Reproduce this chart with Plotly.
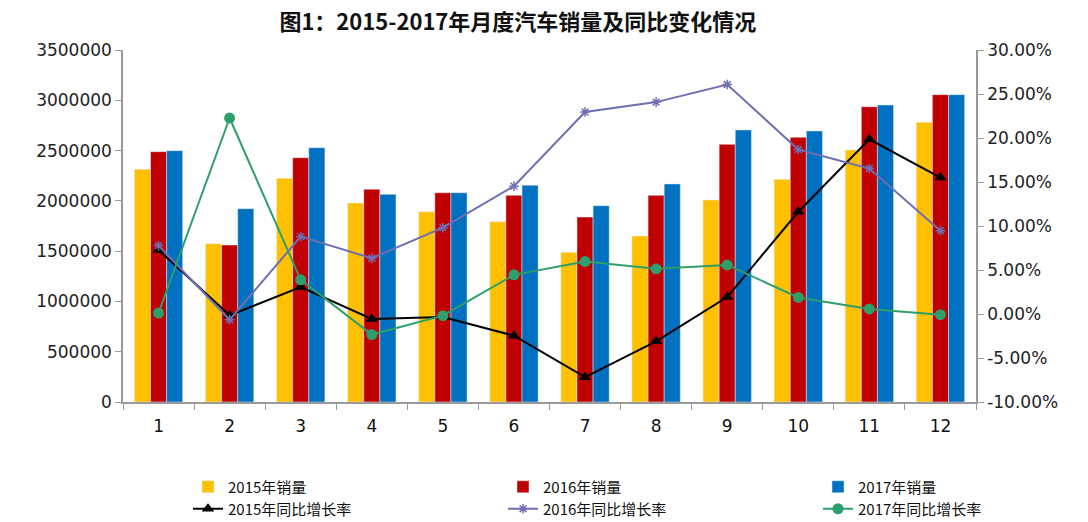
import plotly.graph_objects as go

months = ["1", "2", "3", "4", "5", "6", "7", "8", "9", "10", "11", "12"]

sales_2015 = [2314000, 1574000, 2224000, 1979000, 1892000, 1793000,
              1488000, 1650000, 2009000, 2214000, 2506000, 2781000]
sales_2016 = [2489000, 1561000, 2429000, 2115000, 2081000, 2055000,
              1839000, 2055000, 2562000, 2632000, 2936000, 3056000]
sales_2017 = [2499000, 1922000, 2529000, 2065000, 2081000, 2155000,
              1952000, 2168000, 2705000, 2695000, 2953000, 3056000]

growth_2015 = [0.0728, -0.0015, 0.0306, -0.0057, -0.0034, -0.0246,
               -0.0718, -0.0310, 0.0193, 0.1162, 0.1985, 0.1551]
growth_2016 = [0.0777, -0.0065, 0.0879, 0.0634, 0.0981, 0.1453,
               0.2295, 0.2408, 0.2608, 0.1869, 0.1653, 0.0947]
growth_2017 = [0.0011, 0.2227, 0.0388, -0.0234, -0.0019, 0.0445,
               0.0596, 0.0513, 0.0558, 0.0188, 0.0057, -0.0008]

left_ticks = [0, 500000, 1000000, 1500000, 2000000, 2500000, 3000000, 3500000]
right_ticks = [-0.10, -0.05, 0.0, 0.05, 0.10, 0.15, 0.20, 0.25, 0.30]
right_tick_text = ["-10.00%", "-5.00%", "0.00%", "5.00%", "10.00%",
                   "15.00%", "20.00%", "25.00%", "30.00%"]

title_text = "图1：2015-2017年月度汽车销量及同比变化情况"

FONT = "DejaVu Sans"
CJK = "Noto Sans CJK SC"
axis_col = "#9a9a9a"

fig = go.Figure()
fig.add_trace(go.Bar(x=months, y=sales_2015, name="2015年销量", legend="legend",
                     marker=dict(color="#FFC000")))
fig.add_trace(go.Bar(x=months, y=sales_2016, name="2016年销量", legend="legend2",
                     marker=dict(color="#C00000")))
fig.add_trace(go.Bar(x=months, y=sales_2017, name="2017年销量", legend="legend3",
                     marker=dict(color="#0070C0")))

fig.add_trace(go.Scatter(x=months, y=growth_2015, name="2015年同比增长率",
                         yaxis="y2", mode="lines+markers", legend="legend4",
                         line=dict(color="#000000", width=2),
                         marker=dict(symbol="triangle-up", size=11, color="#000000")))
fig.add_trace(go.Scatter(x=months, y=growth_2016, name="2016年同比增长率",
                         yaxis="y2", mode="lines+markers", legend="legend5",
                         line=dict(color="#6E6EB4", width=2),
                         marker=dict(symbol="asterisk-open", size=8,
                                     line=dict(color="#6E6EB4", width=1.5))))
fig.add_trace(go.Scatter(x=months, y=growth_2017, name="2017年同比增长率",
                         yaxis="y2", mode="lines+markers", legend="legend6",
                         line=dict(color="#2E9E6A", width=2),
                         marker=dict(symbol="circle", size=11, color="#2E9E6A")))


def leg(xpx, ypx):
    return dict(x=xpx / 1088, xref="container", xanchor="left",
                y=1 - ypx / 522, yref="container", yanchor="middle",
                orientation="h", bgcolor="rgba(0,0,0,0)", borderwidth=0,
                font=dict(family=CJK, size=15, color="#111111"))


fig.update_layout(
    width=1088, height=522,
    paper_bgcolor="white", plot_bgcolor="white",
    margin=dict(l=123, r=112, t=50, b=120, autoexpand=False),
    barmode="group", bargap=0.32, bargroupgap=0,
    font=dict(family=FONT, size=16, color="#222222"),
    title=dict(text="<b>" + title_text + "</b>", x=0.476, xanchor="center",
               xref="container", y=1 - 22 / 522, yanchor="middle", yref="container",
               font=dict(family=CJK, size=22, color="#111111")),
    showlegend=True,
    legend=leg(188, 487),
    legend2=leg(503, 487),
    legend3=leg(818, 487),
    legend4=leg(188, 509),
    legend5=leg(503, 509),
    legend6=leg(818, 509),
    xaxis=dict(type="category", range=[-0.5, 11.5], showline=True,
               linecolor=axis_col, linewidth=1.5,
               ticks="outside", tickson="boundaries", ticklen=6, tickcolor=axis_col,
               showgrid=False, tickfont=dict(family=FONT, size=17, color="#111111"),
               ticklabelstandoff=8),
    yaxis=dict(range=[0, 3500000], tickvals=left_ticks,
               ticktext=[str(v) for v in left_ticks],
               showline=True, linecolor=axis_col, linewidth=1.5,
               ticks="outside", ticklen=6, tickcolor=axis_col, showgrid=False,
               zeroline=False, tickfont=dict(family=FONT, size=17, color="#222222")),
    yaxis2=dict(range=[-0.10, 0.30], overlaying="y", side="right",
                tickvals=right_ticks, ticktext=right_tick_text,
                showline=True, linecolor=axis_col, linewidth=1.5,
                ticks="outside", ticklen=6, tickcolor=axis_col, showgrid=False,
                zeroline=False, tickfont=dict(family=FONT, size=17, color="#222222")),
)

fig.write_html("out.html",
               config={"displayModeBar": False},
               post_script="document.body.style.margin='0px';"
                           "document.body.style.overflow='hidden';")
